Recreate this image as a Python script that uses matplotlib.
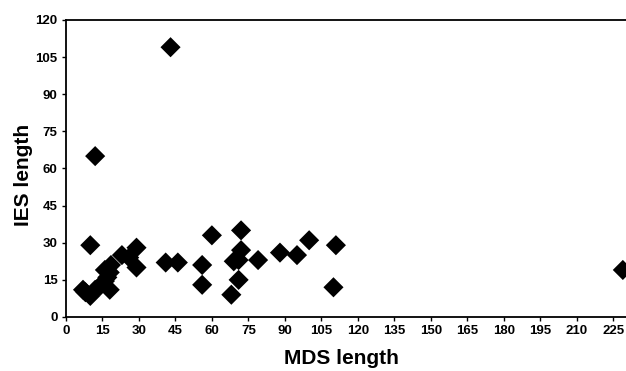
import matplotlib
matplotlib.use("Agg")
import matplotlib.pyplot as plt

mds_length = [43, 12, 10, 60, 72, 100, 88, 95, 79, 72, 69, 71, 71, 68, 56, 56, 41, 46,
              23, 29, 29, 26, 7, 8, 10, 12, 14, 16, 17, 18, 18.5, 16, 18, 111, 110, 229]
ies_length = [109, 65, 29, 33, 35, 31, 26, 25, 23, 27, 22.5, 23, 15, 9, 21, 13, 22, 22,
              25, 28, 20, 24, 11, 10, 8.5, 11, 12.5, 14.5, 16, 11, 21, 19, 18, 29, 12, 19]

x_ticks = list(range(0, 226, 15))
y_ticks = list(range(0, 121, 15))

plt.rcParams['font.family'] = ['Liberation Sans', 'DejaVu Sans']
fig = plt.figure(figsize=(6.26, 3.71), dpi=100)
ax = fig.add_axes([0.1054, 0.1456, 0.8946, 0.8005])
ax.scatter(mds_length, ies_length, marker='D', s=105, color='black', edgecolors='none', zorder=3)
ax.set_xlim(0, 230.3)
ax.set_ylim(0, 120)
ax.set_xticks(x_ticks)
ax.set_yticks(y_ticks)
ax.tick_params(axis='both', labelsize=9.5, width=1, length=3, direction='out', pad=3)
for lab in ax.get_xticklabels() + ax.get_yticklabels():
    lab.set_fontweight('bold')
ax.set_xlabel('MDS length', fontsize=15, fontweight='bold')
ax.set_ylabel('IES length', fontsize=15, fontweight='bold')
ax.xaxis.set_label_coords(0.491, -0.108)
ax.yaxis.set_label_coords(-0.059, 0.478)
for s in ['left', 'bottom', 'top']:
    ax.spines[s].set_linewidth(1.3)
ax.spines['right'].set_visible(False)
fig.savefig('out.png', dpi=100)
